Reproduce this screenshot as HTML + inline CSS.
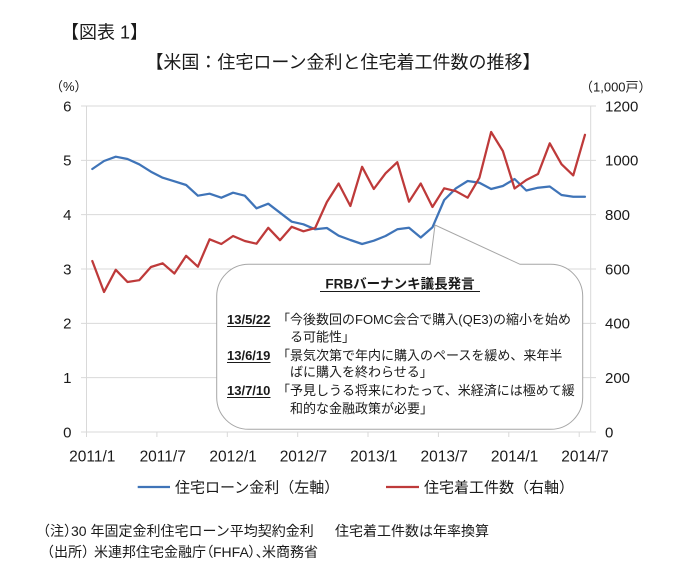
<!DOCTYPE html>
<html>
<head>
<meta charset="utf-8">
<style>
  html,body{margin:0;padding:0;background:#fff;}
  svg{display:block;}
  text{font-family:"Liberation Sans","Noto Sans CJK JP",sans-serif;fill:#1a1a1a;}
</style>
</head>
<body>
<svg width="700" height="585" viewBox="0 0 700 585" xmlns="http://www.w3.org/2000/svg">
  <rect width="700" height="585" fill="#fff"/>

  <!-- Titles -->
  <text x="61" y="38.5" font-size="18">【図表 1】</text>
  <text x="343" y="68.5" font-size="18" text-anchor="middle">【米国：住宅ローン金利と住宅着工件数の推移】</text>

  <!-- Axis unit labels -->
  <text x="50" y="91" font-size="13">（%）</text>
  <text x="580" y="91.5" font-size="13">（1,000戸）</text>

  <!-- Gridlines (with outward ticks) -->
  <g stroke="#D9D9D9" stroke-width="1">
    <line x1="81" y1="106" x2="596" y2="106"/>
    <line x1="81" y1="160.33" x2="596" y2="160.33"/>
    <line x1="81" y1="214.67" x2="596" y2="214.67"/>
    <line x1="81" y1="269" x2="596" y2="269"/>
    <line x1="81" y1="323.33" x2="596" y2="323.33"/>
    <line x1="81" y1="377.67" x2="596" y2="377.67"/>
    <line x1="81" y1="432" x2="596" y2="432"/>
    <line x1="86.5" y1="106" x2="86.5" y2="432"/>
    <line x1="590.7" y1="106" x2="590.7" y2="432"/>
    <!-- bottom ticks -->
    <line x1="86.5" y1="432" x2="86.5" y2="437"/>
    <line x1="156.9" y1="432" x2="156.9" y2="437"/>
    <line x1="227.3" y1="432" x2="227.3" y2="437"/>
    <line x1="297.7" y1="432" x2="297.7" y2="437"/>
    <line x1="368.0" y1="432" x2="368.0" y2="437"/>
    <line x1="438.4" y1="432" x2="438.4" y2="437"/>
    <line x1="508.8" y1="432" x2="508.8" y2="437"/>
    <line x1="579.2" y1="432" x2="579.2" y2="437"/>
  </g>

  <!-- Left axis labels -->
  <g font-size="15" text-anchor="end">
    <text x="71.5" y="111.4">6</text>
    <text x="71.5" y="165.7">5</text>
    <text x="71.5" y="220.1">4</text>
    <text x="71.5" y="274.4">3</text>
    <text x="71.5" y="328.7">2</text>
    <text x="71.5" y="383.1">1</text>
    <text x="71.5" y="437.4">0</text>
  </g>
  <!-- Right axis labels -->
  <g font-size="15">
    <text x="605" y="111.4">1200</text>
    <text x="605" y="165.7">1000</text>
    <text x="605" y="220.1">800</text>
    <text x="605" y="274.4">600</text>
    <text x="605" y="328.7">400</text>
    <text x="605" y="383.1">200</text>
    <text x="605" y="437.4">0</text>
  </g>

  <!-- X labels -->
  <g font-size="15.5" text-anchor="middle">
    <text x="92.3" y="461.3">2011/1</text>
    <text x="162.7" y="461.3">2011/7</text>
    <text x="233.1" y="461.3">2012/1</text>
    <text x="303.4" y="461.3">2012/7</text>
    <text x="373.8" y="461.3">2013/1</text>
    <text x="444.2" y="461.3">2013/7</text>
    <text x="514.6" y="461.3">2014/1</text>
    <text x="585.0" y="461.3">2014/7</text>
  </g>

  <!-- Series: mortgage rate (blue) -->
  <polyline fill="none" stroke="#3F74B8" stroke-width="2.25" stroke-linejoin="round" stroke-linecap="round"
    points="92.3,169 104.03,161 115.76,156.7 127.49,159 139.22,164.3 150.95,171.7 162.68,177.7 174.41,181.3 186.14,185 197.87,195.7 209.6,193.7 221.33,197.7 233.06,192.7 244.79,195.7 256.52,208.3 268.25,203.7 279.98,212.7 291.71,221.7 303.44,224.3 315.17,229.3 326.9,228 338.63,235.7 350.36,240 362.09,244 373.82,240.7 385.55,236 397.28,229.3 409.01,227.7 420.74,237.5 432.47,227.3 444.2,200 455.93,188.3 467.66,181 479.39,182.7 491.12,189 502.85,186 514.58,179 526.31,190.5 538.04,187.7 549.77,186.5 561.5,195 573.23,196.7 584.96,196.7"/>
  <!-- Series: housing starts (red) -->
  <polyline fill="none" stroke="#BE3A3A" stroke-width="2.25" stroke-linejoin="round" stroke-linecap="round"
    points="92.3,261 104.03,292 115.76,269.8 127.49,282 139.22,280.2 150.95,267 162.68,263.3 174.41,273.5 186.14,255.8 197.87,266.7 209.6,239.3 221.33,244 233.06,236 244.79,241 256.52,243.7 268.25,227.8 279.98,240.2 291.71,226.8 303.44,231.3 315.17,228 326.9,202 338.63,183.5 350.36,206 362.09,166.8 373.82,189 385.55,173.3 397.28,162.2 409.01,201.7 420.74,183.5 432.47,207 444.2,188.3 455.93,191.2 467.66,197.7 479.39,177.8 491.12,132 502.85,151 514.58,188.5 526.31,180 538.04,174 549.77,143.3 561.5,164.2 573.23,175.4 584.96,134.8"/>

  <!-- Callout -->
  <path d="M 248.7,264.3 L 430,264.3 L 435,225 L 520,264.3 L 550.7,264.3 A 32 32 0 0 1 582.7,296.3 L 582.7,397.3 A 32 32 0 0 1 550.7,429.3 L 248.7,429.3 A 32 32 0 0 1 216.7,397.3 L 216.7,296.3 A 32 32 0 0 1 248.7,264.3 Z"
    fill="#fff" stroke="#A6A6A6" stroke-width="1"/>

  <text x="400" y="288.5" font-size="13.5" font-weight="bold" text-anchor="middle">FRBバーナンキ議長発言</text>
  <line x1="320" y1="291.5" x2="480" y2="291.5" stroke="#1a1a1a" stroke-width="1"/>

  <g font-size="13">
    <text x="227" y="324" font-weight="bold">13/5/22</text>
    <text x="277" y="324">「今後数回のFOMC会合で購入(QE3)の縮小を始め</text>
    <text x="290" y="341.7">る可能性」</text>
    <text x="227" y="360" font-weight="bold">13/6/19</text>
    <text x="277" y="360">「景気次第で年内に購入のペースを緩め、来年半</text>
    <text x="290" y="376.7">ばに購入を終わらせる」</text>
    <text x="227" y="395" font-weight="bold">13/7/10</text>
    <text x="277" y="395">「予見しうる将来にわたって、米経済には極めて緩</text>
    <text x="290" y="413">和的な金融政策が必要」</text>
  </g>
  <g stroke="#1a1a1a" stroke-width="1">
    <line x1="227" y1="326.5" x2="270.5" y2="326.5"/>
    <line x1="227" y1="362.5" x2="270.5" y2="362.5"/>
    <line x1="227" y1="397.5" x2="270.5" y2="397.5"/>
  </g>

  <!-- Legend -->
  <line x1="137.7" y1="487" x2="170" y2="487" stroke="#3F74B8" stroke-width="2.25"/>
  <text x="175" y="492.5" font-size="15">住宅ローン金利（左軸）</text>
  <line x1="386" y1="487" x2="419" y2="487" stroke="#BE3A3A" stroke-width="2.25"/>
  <text x="424" y="492.5" font-size="15">住宅着工件数（右軸）</text>

  <!-- Footnotes -->
  <g font-size="14">
    <text x="36" y="536">（注）</text>
    <text x="71" y="536">30 年固定金利住宅ローン平均契約金利</text>
    <text x="335" y="536">住宅着工件数は年率換算</text>
    <text x="40" y="557">（出所）</text>
    <text x="94" y="557">米連邦住宅金融庁</text>
    <text x="206" y="557" style="font-feature-settings:'palt'">（FHFA）、</text>
    <text x="262" y="557">米商務省</text>
  </g>
</svg>
</body>
</html>
